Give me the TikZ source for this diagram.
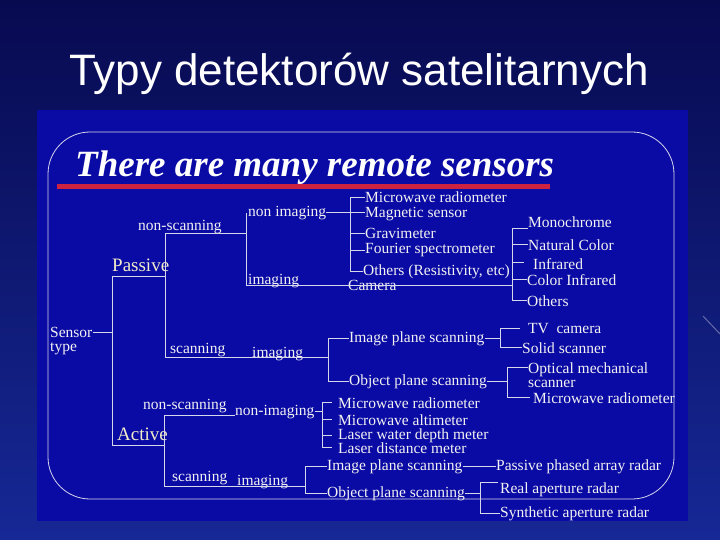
\documentclass[tikz,border=0pt]{standalone}
\usepackage{fontspec}
\setmainfont{Liberation Serif}
\newfontfamily\titlefont{Liberation Sans}
\definecolor{bgtop}{RGB}{8,10,80}
\definecolor{bgbot}{RGB}{22,40,150}
\definecolor{panel}{RGB}{10,10,165}
\definecolor{wirec}{RGB}{215,215,235}
\definecolor{txt}{RGB}{242,242,242}
\definecolor{cream}{RGB}{240,235,200}
\definecolor{redline}{RGB}{205,35,65}
\begin{document}
\begin{tikzpicture}[x=1pt,y=-1pt,
  lbl/.style={anchor=base west,inner sep=0pt,font=\fontsize{15.5}{14}\selectfont,text=txt},
  big/.style={anchor=base west,inner sep=0pt,font=\fontsize{19}{19}\selectfont,text=cream},
  wire/.style={draw=wirec,line width=0.8pt}]
\useasboundingbox (0,0) rectangle (720,540);
\shade[top color=bgtop,bottom color=bgbot] (0,0) rectangle (720,540);
\draw[white,opacity=0.35,line width=1pt] (703,316) -- (720,334);
% panel and frame
\fill[panel] (37,110) rectangle (688,521);
\draw[wire,rounded corners=42pt] (48,132) rectangle (674,499);
% titles
\node[anchor=base,inner sep=0pt,font=\titlefont\fontsize{44}{44}\selectfont,text=white] (title) at (359,86) {Typy detektorów satelitarnych};
\node[anchor=base west,inner sep=0pt,font=\fontsize{37}{37}\selectfont\bfseries\itshape,text=white] (head) at (75,177) {There are many remote sensors};
\coordinate (ul1) at (57,187);
\coordinate (ul2) at (550,187);
\draw[redline,line width=5pt] (ul1) -- (ul2);
% root
\node[lbl] (sensor) at (50,337) {Sensor};
\node[lbl] (type) at (50,351) {type};
\node[big] (passive) at (112,271) {Passive};
\node[big] (active) at (117,440) {Active};
\coordinate (pj) at (112,276);
\coordinate (aj) at (112,445);
\coordinate (pb) at (165,276);
\coordinate (ab) at (164,445);
\draw[wire] (sensor.east) -- (sensor.east -| pj);
\draw[wire] (pj) -- (aj);
\draw[wire] (pj) -- (pb);
\draw[wire] (aj) -- (ab);
% passive non-scanning
\node[lbl] (pnscan) at (138,230) {non-scanning};
\node[lbl] (nonimg) at (248,216) {non imaging};
\node[lbl] (pimg1) at (248,284) {imaging};
\node[lbl] (camera) at (348,290) {Camera};
\node[lbl] (mwr1) at (365,203) {Microwave radiometer};
\node[lbl] (magn) at (365,218) {Magnetic sensor};
\node[lbl] (grav) at (365,238) {Gravimeter};
\node[lbl] (four) at (365,254) {Fourier spectrometer};
\node[lbl] (oth1) at (363,275) {Others (Resistivity, etc)};
\node[lbl] (mono) at (528,228) {Monochrome};
\node[lbl] (natc) at (528,250) {Natural Color};
\node[lbl] (infr) at (533,269.5) {Infrared};
\node[lbl] (cinf) at (527,285) {Color Infrared};
\node[lbl] (oth2) at (527,306) {Others};
\coordinate (pnsj) at (165,233);
\coordinate (pscj) at (165,357);
\coordinate (nsb1) at (246,213);
\coordinate (nsb2) at (246,233);
\coordinate (nsb3) at (246,285);
\coordinate (cbj) at (512,285);
\coordinate (nib) at (350,0);
\coordinate (cb) at (512,0);
\coordinate (irt) at (512,262);
\draw[wire] (pnsj) -- (pscj);
\draw[wire] (pnsj) -- (nsb2);
\draw[wire] (nsb1) -- (nsb3) -- (cbj);
\draw[wire] (nonimg.east) -- (nonimg.east -| magn.west);
\draw[wire] (mwr1.west -| nib) -- (oth1.west -| nib);
\foreach \n in {mwr1,grav,four,oth1}{\draw[wire] (\n.west -| nib) -- (\n.west);}
\draw[wire] (cb |- mono.base west) -- (cb |- oth2.west);
\draw[wire] (cb |- mono.base west) -- (mono.base west);
\foreach \n in {natc,cinf,oth2}{\draw[wire] (\n.west -| cb) -- (\n.west);}
\draw[wire,shorten >=9pt] (irt) -- (irt -| infr.west);
% passive scanning
\node[lbl] (pscan) at (170,353) {scanning};
\node[lbl] (pimg2) at (252,357) {imaging};
\node[lbl] (ips1) at (349,342) {Image plane scanning};
\node[lbl] (ops1) at (349,385) {Object plane scanning};
\node[lbl] (tvc) at (528,333) {TV\ \ camera};
\node[lbl] (solid) at (522,353) {Solid scanner};
\node[lbl,align=left,anchor=north west] (optm) at (528,363) {Optical mechanical\\scanner};
\node[lbl] (mwr2) at (533,403) {Microwave radiometer};
\coordinate (optt) at ([yshift=-4.5pt]optm.north west);
\coordinate (sbj) at (328,357);
\coordinate (sb) at (328,0);
\coordinate (tb) at (500,0);
\coordinate (ob) at (507,0);
\draw[wire] (pscj) -- (sbj);
\draw[wire] (sb |- ips1.west) -- (sb |- ops1.west);
\draw[wire] (sb |- ips1.west) -- (ips1.west);
\draw[wire] (sb |- ops1.west) -- (ops1.west);
\draw[wire] (ips1.east) -- (ips1.east -| tb);
\draw[wire] (tb |- tvc.west) -- (tb |- solid.west);
\draw[wire,shorten >=8pt] (tb |- tvc.west) -- (tvc.west);
\draw[wire] (tb |- solid.west) -- (solid.west);
\draw[wire] (ops1.east) -- (ops1.east -| ob);
\draw[wire] (ob |- optt) -- (ob |- mwr2.west);
\draw[wire] (ob |- optt) -- (optt);
\draw[wire,shorten >=3pt] (ob |- mwr2.west) -- (mwr2.west);
% active non-scanning
\node[lbl] (anscan) at (143,409) {non-scanning};
\node[lbl] (anonimg) at (235,415) {non-imaging};
\node[lbl] (mwr3) at (338,408) {Microwave radiometer};
\node[lbl] (malt) at (338,425) {Microwave altimeter};
\node[lbl] (lwd) at (338,439) {Laser water depth meter};
\node[lbl] (ldm) at (338,453) {Laser distance meter};
\coordinate (ansj) at (164,415);
\coordinate (ascj) at (164,486);
\coordinate (nb) at (322,0);
\draw[wire] (ansj) -- (ascj);
\draw[wire] (ansj) -- (anonimg.base west);
\draw[wire] (anonimg.east) -- (anonimg.east -| nb);
\draw[wire] (nb |- mwr3.west) -- (nb |- ldm.west);
\foreach \n in {mwr3,malt,lwd,ldm}{\draw[wire,shorten >=6pt] (\n.west -| nb) -- (\n.west);}
% active scanning
\node[lbl] (ascan) at (172,481) {scanning};
\node[lbl] (aimg) at (237,485) {imaging};
\node[lbl] (ips2) at (327,470) {Image plane scanning};
\node[lbl] (ops2) at (327,497) {Object plane scanning};
\node[lbl] (ppar) at (496,470) {Passive phased array radar};
\node[lbl] (rar) at (500,493) {Real aperture radar};
\node[lbl] (sar) at (500,517) {Synthetic aperture radar};
\coordinate (asj) at (305,486);
\coordinate (ab2) at (305,0);
\coordinate (rb) at (480,0);
\draw[wire] (ascj) -- (asj);
\draw[wire] (ab2 |- ips2.west) -- (ab2 |- ops2.west);
\draw[wire] (ab2 |- ips2.west) -- (ips2.west);
\draw[wire] (ab2 |- ops2.west) -- (ops2.west);
\draw[wire] (ips2.east) -- (ppar.west);
\draw[wire] (ops2.east) -- (ops2.east -| rb);
\draw[wire] (rb |- rar.north west) -- (rb |- sar.west);
\draw[wire,shorten >=2pt] (rb |- rar.north west) -- (rar.north west);
\draw[wire] (rb |- sar.west) -- (sar.west);
\end{tikzpicture}
\end{document}
